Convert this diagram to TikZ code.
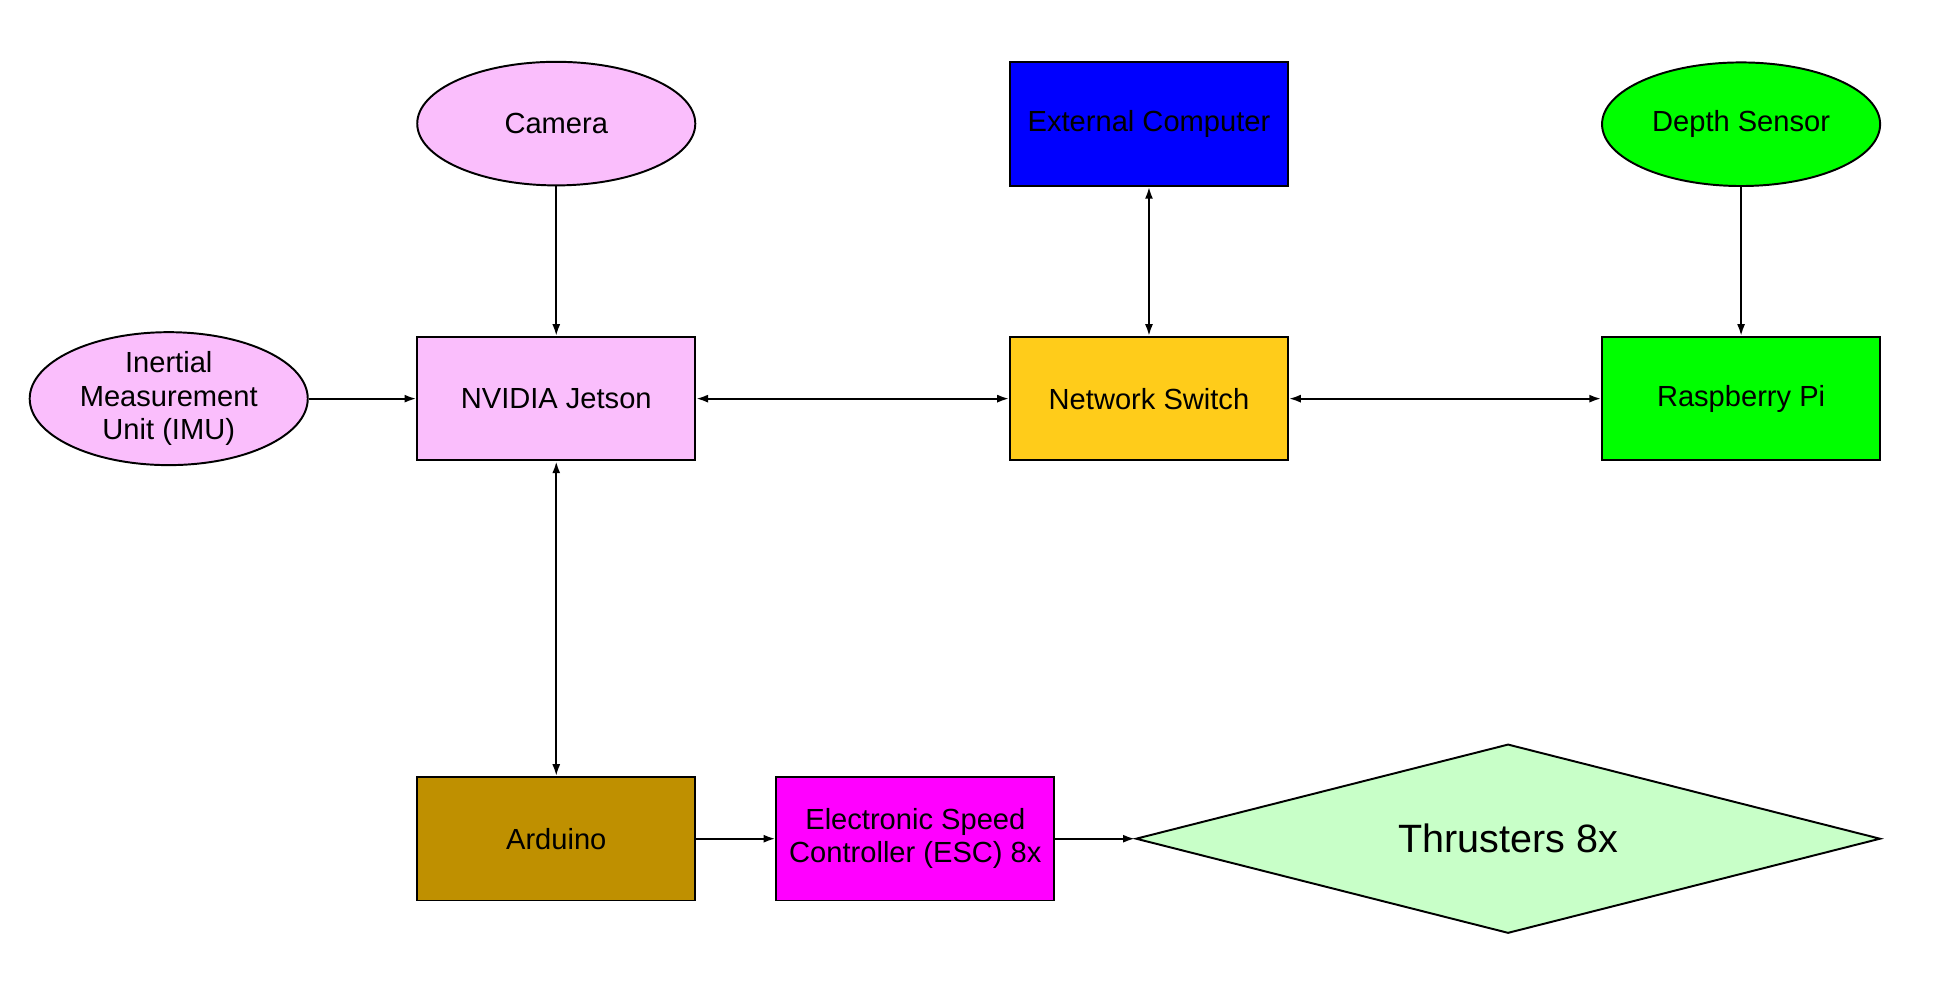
\documentclass[tikz,border=0pt]{standalone}
\usepackage{fontspec}
\setmainfont{Liberation Sans}
\usetikzlibrary{arrows.meta,shapes.geometric}

\definecolor{rosa}{RGB}{250,190,252}
\definecolor{gold}{RGB}{255,204,26}
\definecolor{ocker}{RGB}{191,144,0}
\definecolor{hellgruen}{RGB}{200,255,200}
\definecolor{blau}{RGB}{0,0,255}
\definecolor{gruen}{RGB}{0,255,0}
\definecolor{pink}{RGB}{255,0,255}

\begin{document}
\begin{tikzpicture}[
    x=0.02cm, y=-0.02cm,
    >={Latex[length=1.9mm,width=1.3mm]},
    line width=.9pt,
    kasten/.style={
      rectangle,
      draw,
      minimum width=4.5cm,
      minimum height=2cm,
      align=center,
      font=\fontsize{13.4}{15.4}\selectfont},
    blase/.style={
      ellipse,
      draw,
      inner sep=0pt,
      minimum width=4.5cm,
      minimum height=2cm,
      align=center,
      font=\fontsize{13.4}{15.4}\selectfont},
    raute/.style={
      diamond,
      aspect=3.92,
      draw,
      inner sep=0pt,
      minimum width=12.05cm,
      minimum height=3.06cm,
      font=\fontsize{18.2}{21}\selectfont}
    ]

  \useasboundingbox (0,0) rectangle (1567,807);

  \node at (450,100) (knotenKamera) [blase, fill=rosa] {Camera};
  \node at (929.5,100.5) (knotenExtern) [kasten, fill=blau] {External Computer};
  \node at (1408.5,100.5) (knotenTiefe) [blase, fill=gruen] {Depth Sensor};

  \node at (136.5,322.5) (knotenIMU) [blase, fill=rosa] {Inertial\\Measurement\\Unit (IMU)};
  \node at (450,322.5) (knotenJetson) [kasten, fill=rosa] {NVIDIA Jetson};
  \node at (929.5,322.5) (knotenSwitch) [kasten, fill=gold] {Network Switch};
  \node at (1408.5,322.5) (knotenPi) [kasten, fill=gruen] {Raspberry Pi};

  \node at (450,678.5) (knotenArduino) [kasten, fill=ocker] {Arduino};
  \node at (740.5,678.5) (knotenESC) [kasten, fill=pink] {Electronic Speed\\Controller (ESC) 8x};
  \node at (1220,678.5) (knotenThruster) [raute, fill=hellgruen] {Thrusters 8x};

  \path  [->] (knotenKamera) edge [] (knotenJetson);
  \path  [->] (knotenIMU) edge [] (knotenJetson);
  \path  [<->] (knotenJetson) edge [] (knotenSwitch);
  \path  [<->] (knotenExtern) edge [] (knotenSwitch);
  \path  [<->] (knotenSwitch) edge [] (knotenPi);
  \path  [->] (knotenTiefe) edge [] (knotenPi);
  \path  [<->] (knotenJetson) edge [] (knotenArduino);
  \path  [->] (knotenArduino) edge [] (knotenESC);
  \path  [->] (knotenESC) edge [] (knotenThruster);

\end{tikzpicture}
\end{document}
